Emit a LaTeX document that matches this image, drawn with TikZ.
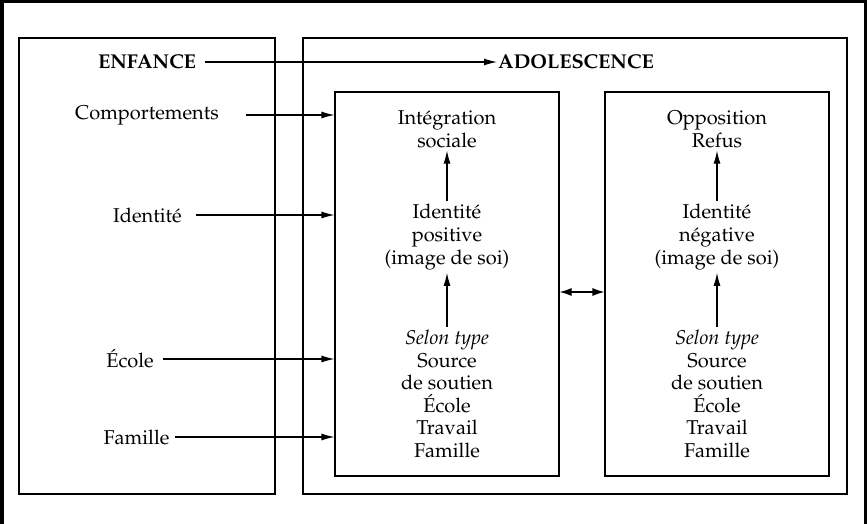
\documentclass[tikz,border=0pt]{standalone}
\usepackage[T1]{fontenc}
\usepackage{mathpazo}
\usetikzlibrary{arrows.meta}
\tikzset{
  boite/.style={draw,line width=1.1pt,inner sep=0pt},
  fleche/.style={line width=1.1pt,-{Latex[length=13pt,width=7pt]}},
  dfleche/.style={line width=1.1pt,{Latex[length=12pt,width=8pt]}-{Latex[length=12pt,width=8pt]}},
  txt/.style={align=center,inner sep=3pt,font=\fontsize{20}{22.6}\selectfont},
}
\begin{document}
\begin{tikzpicture}[x=1pt,y=-1pt] % ------ Enfance / adolescence ----------------
    \useasboundingbox (0,0) rectangle (867,524);
    \draw [line width=3.5pt] (1.75,524) -- (1.75,1.75) -- (865.25,1.75) -- (865.25,524);
    \draw [boite] (19,38) rectangle (275,494);
    \draw [boite] (303,38) rectangle (847,494);
    \node [boite,minimum width=224pt,minimum height=384pt] (boite1) at (447,284) {};
    \node [boite,minimum width=224pt,minimum height=384pt] (boite2) at (717,284) {};
    % colonne de gauche
    \node [txt] (enf) at (147,62) {\bfseries ENFANCE};
    \node [txt,anchor=west,inner sep=1pt] (ado) at (497,62) {\bfseries ADOLESCENCE};
    \node [txt] (comp) at (147,115) {Comportements};
    \node [txt] (iden) at (147.5,215) {Identité};
    \node [txt] (ecol) at (130,359) {École};
    \node [txt] (fam) at (136.5,437) {Famille};
    \draw [fleche,shorten <=6pt] (enf) -- (ado);
    \draw [fleche,shorten <=24pt] (comp) -- (comp -| boite1.west);
    \draw [fleche,shorten <=11pt] (iden) -- (iden -| boite1.west);
    \draw [fleche,shorten <=6pt] (ecol) -- (ecol -| boite1.west);
    \draw [fleche,shorten <=2pt] (fam) -- (fam -| boite1.west);
    % boite positive
    \node [txt] (integ) at (447,129) {Intégration\\sociale};
    \node [txt] (pos) at (447,237) {Identité\\positive\\(image de soi)};
    \node [txt] (sout1) at (447,394) {\textit{Selon type}\\Source\\de soutien\\École\\Travail\\Famille};
    \draw [fleche] (pos) -- (integ);
    \draw [fleche] (sout1) -- (pos);
    % boite negative
    \node [txt] (oppo) at (717,129) {Opposition\\Refus};
    \node [txt] (neg) at (717,237) {Identité\\négative\\(image de soi)};
    \node [txt] (sout2) at (717,394) {\textit{Selon type}\\Source\\de soutien\\École\\Travail\\Famille};
    \draw [fleche] (neg) -- (oppo);
    \draw [fleche] (sout2) -- (neg);
    \coordinate (milieu) at (582,292);
    \draw [dfleche] (milieu -| boite1.east) -- (milieu -| boite2.west);
\end{tikzpicture}
\end{document}
